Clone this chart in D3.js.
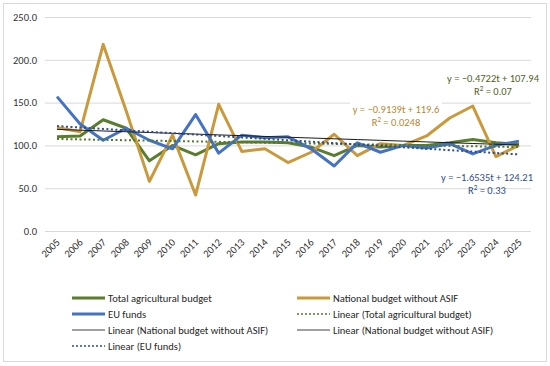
<!DOCTYPE html>
<html>
<head>
<meta charset="utf-8">
<script src="https://cdn.jsdelivr.net/npm/d3@7"></script>
<style>
  body { margin: 0; background: #fff; }
  svg text { font-family: Carlito, Lato, "Liberation Sans", sans-serif; }
</style>
</head>
<body>
<div id="chart"></div>
<script>
// data
const years = d3.range(2005, 2026).map(String);
const totalBudget = [110, 111, 130, 120, 82, 100, 89, 102, 104, 104, 103, 98, 88, 100, 98, 100, 100, 103, 107, 103, 101];
const nationalBudget = [121, 116, 218, 140, 58, 112, 42, 148, 93, 96, 80, 92, 113, 88, 102, 100, 111, 132, 146, 87, 100];
const euFunds = [157, 125, 106, 120, 106, 96, 136, 91, 112, 109, 110, 96, 76, 103, 92, 100, 97, 102, 90, 100, 105];
const yTicks = [0, 50, 100, 150, 200, 250];

// trendline coefficients as printed on the chart (slope, intercept)
const trendTotal = [-0.4722, 107.94];
const trendNational = [-0.9139, 119.6];
const trendEU = [-1.6535, 124.21];

const W = 550, H = 366;
const colors = { total: '#5b7d2e', national: '#c9993c', eu: '#4472c4', euTrend: '#2f4d8c', totalTrend: '#4f7a28' };

const svg = d3.select('#chart').append('svg')
  .attr('width', W).attr('height', H)
  .attr('viewBox', [0, 0, W, H]);

svg.append('rect')
  .attr('x', 3.5).attr('y', 3.5).attr('width', W - 7).attr('height', H - 8)
  .attr('fill', '#fff').attr('stroke', '#d9d9d9');

const x = d3.scalePoint().domain(years).range([57, 519]);
const y = d3.scaleLinear().domain([0, 250]).range([231, 17]);

// gridlines + y labels
const yAxis = d3.axisLeft(y).tickValues(yTicks).tickSize(-(531 - 45)).tickFormat(d3.format('.1f'));
const yg = svg.append('g').attr('transform', 'translate(45,0)').call(yAxis);
yg.select('.domain').remove();
yg.selectAll('.tick line').attr('stroke', '#d9d9d9');
yg.selectAll('.tick text').attr('x', -8).attr('font-size', 10.5).attr('fill', '#333')
  .style('font-family', 'Carlito, Lato, sans-serif');

// x labels
const xAxis = d3.axisBottom(x).tickSize(0);
const xg = svg.append('g').attr('transform', 'translate(0,231)').call(xAxis);
xg.select('.domain').remove();
xg.selectAll('.tick text')
  .attr('font-size', 10.5).attr('fill', '#333')
  .attr('text-anchor', 'end')
  .attr('dy', 0).attr('y', 0)
  .attr('transform', 'translate(3,12) rotate(-45)')
  .style('font-family', 'Carlito, Lato, sans-serif');

const line = d3.line().x((d, i) => x(years[i])).y(d => y(d));

const trend = c => years.map((_, i) => c[0] * (i + 1) + c[1]);

const plot = svg.append('g');
function drawSeries(vals, color, width, dash) {
  plot.append('path').datum(vals)
    .attr('d', line).attr('fill', 'none')
    .attr('stroke', color).attr('stroke-width', width)
    .attr('stroke-dasharray', dash || null)
    .attr('stroke-linejoin', 'round');
}

// trendline labels (drawn under the lines, only the gridline is masked)
const fmtEq = c => `y = \u2212${Math.abs(c[0])}t + ${c[1]}`;
function eqLabel(cx, cy, c, r2, color, bg) {
  const g = svg.append('g');
  if (bg) {
    g.append('rect').attr('x', cx - 46).attr('y', cy - 12).attr('width', 92).attr('height', 16).attr('fill', '#fff');
  }
  g.append('text').attr('x', cx).attr('y', cy).attr('text-anchor', 'middle')
    .attr('font-size', 10.5).attr('fill', color).text(fmtEq(c));
  const t = g.append('text').attr('x', cx).attr('y', cy + 13).attr('text-anchor', 'middle')
    .attr('font-size', 10.5).attr('fill', color);
  t.append('tspan').text('R');
  t.append('tspan').attr('font-size', 7).attr('dy', -4).text('2');
  t.append('tspan').attr('dy', 4).text(' = ' + r2);
}
eqLabel(493, 82, trendTotal, '0.07', '#4f6228', false);
eqLabel(396, 113, trendNational, '0.0248', '#b8862e', true);
eqLabel(487, 181, trendEU, '0.33', '#2f4d8c', false);

drawSeries(totalBudget, colors.total, 3);
drawSeries(nationalBudget, colors.national, 3);
drawSeries(euFunds, colors.eu, 3);
drawSeries(trend(trendTotal), colors.totalTrend, 2, '2,2.5');
drawSeries(trend(trendNational), '#1a1a1a', 1);
drawSeries(trend(trendEU), colors.euTrend, 2, '2,2.5');

// legend
const legendItems = [
  { label: 'Total agricultural budget', color: colors.total, w: 3, dash: null },
  { label: 'National budget without ASIF', color: colors.national, w: 3, dash: null },
  { label: 'EU funds', color: colors.eu, w: 3, dash: null },
  { label: 'Linear (Total agricultural budget)', color: colors.totalTrend, w: 1.5, dash: '2,2' },
  { label: 'Linear (National budget without ASIF)', color: '#404040', w: 1, dash: null },
  { label: 'Linear (National budget without ASIF)', color: '#404040', w: 1, dash: null },
  { label: 'Linear (EU funds)', color: colors.euTrend, w: 1.5, dash: '2,2' }
];
const legend = svg.append('g');
const item = legend.selectAll('g').data(legendItems).join('g')
  .attr('transform', (d, i) => `translate(${i % 2 === 0 ? 72 : 297},${298 + Math.floor(i / 2) * 16})`);
item.append('line').attr('x1', 0).attr('x2', 33).attr('y1', 0).attr('y2', 0)
  .attr('stroke', d => d.color).attr('stroke-width', d => d.w).attr('stroke-dasharray', d => d.dash);
item.append('text').attr('x', 36).attr('y', 3.5).attr('font-size', 10.5).attr('fill', '#262626')
  .text(d => d.label);
</script>
</body>
</html>
